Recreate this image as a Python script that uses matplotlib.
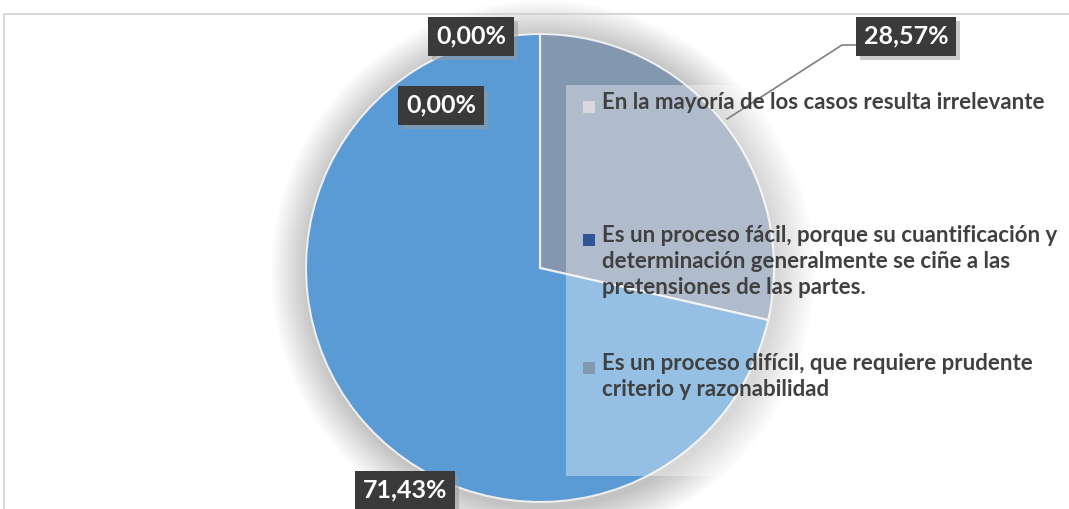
import matplotlib
matplotlib.use("Agg")
import matplotlib.pyplot as plt
import matplotlib.patheffects as pe
from matplotlib.patches import Rectangle, Circle

plt.rcParams['font.family'] = ['Lato', 'DejaVu Sans']

# datos
categorias = ["En la mayoría de los casos resulta irrelevante",
              "Es un proceso fácil, porque su cuantificación y\ndeterminación generalmente se ciñe a las\npretensiones de las partes.",
              "Es un proceso difícil, que requiere prudente\ncriterio y razonabilidad",
              "Otro"]
valores = [0.0, 0.0, 28.57, 71.43]
colores = ['#D9D9D9', '#2F5597', '#8497B0', '#5B9BD5']

W, H = 1069, 509
fig = plt.figure(figsize=(W / 100, H / 100), dpi=100)
fig.patch.set_facecolor('white')

# ejes del pastel (coordenadas en pixeles, y hacia arriba)
ax = fig.add_axes([0, 0, 1, 1])
ax.set_xlim(0, W)
ax.set_ylim(0, H)
ax.set_aspect('equal')
ax.axis('off')

cx, cy, r = 540, H - 268, 234

# sombra suave alrededor del pastel
for k in range(1, 16):
    ax.add_patch(Circle((cx + 3, cy - 4), r + k * 2.5, color='black', alpha=0.016, lw=0, zorder=0))

explode = [0, 0, 5 / r, 0]
wedges, _ = ax.pie(valores, colors=colores, startangle=90, counterclock=False,
                   radius=r, center=(cx, cy), explode=explode,
                   wedgeprops=dict(edgecolor='#EEEEEE', linewidth=1.5), frame=True)
for w in wedges:
    w.set_zorder(1)
ax.set_xlim(0, W)
ax.set_ylim(0, H)
ax.axis('off')

# capa superior en pixeles (y hacia abajo)
ov = fig.add_axes([0, 0, 1, 1], facecolor='none')
ov.set_xlim(0, W)
ov.set_ylim(H, 0)
ov.axis('off')

# borde del area del grafico
ov.plot([4, 4, W], [H, 14, 14], color='#D0D0D0', lw=1.2)

# leyenda (fondo semitransparente)
ov.add_patch(Rectangle((566, 85), W - 566, 391, facecolor='white', alpha=0.36, lw=0))
leg_y = [107, 240, 368]
for cat, col, y in zip(categorias[:3], colores[:3], leg_y):
    ov.add_patch(Rectangle((583, y - 6), 12, 12, facecolor=col, lw=0))
    ov.text(602, y - 15, cat, fontsize=16, fontweight='bold', color='#404040',
            va='top', ha='left', linespacing=1.28)

# etiquetas de datos
def fmt(v):
    return f"{v:.2f}".replace('.', ',') + '%'

etq_pos = [(471, 36), (441, 105), (906, 36), (405, 490)]
for v, (x, y) in zip(valores, etq_pos):
    t = ov.text(x, y, fmt(v), fontsize=18, fontweight='bold', color='white',
                ha='center', va='center',
                bbox=dict(boxstyle='square,pad=0.32', facecolor='#3A3A3A', edgecolor='none'))
    t.get_bbox_patch().set_path_effects([
        pe.SimplePatchShadow(offset=(3, -3), shadow_rgbFace='#999999', alpha=0.5),
        pe.Normal()])

# linea guia de 28,57%
ov.plot([727, 842, 860], [119, 45, 45], color='#7F7F7F', lw=1.2)

fig.savefig('out.png', dpi=100, facecolor='white')
